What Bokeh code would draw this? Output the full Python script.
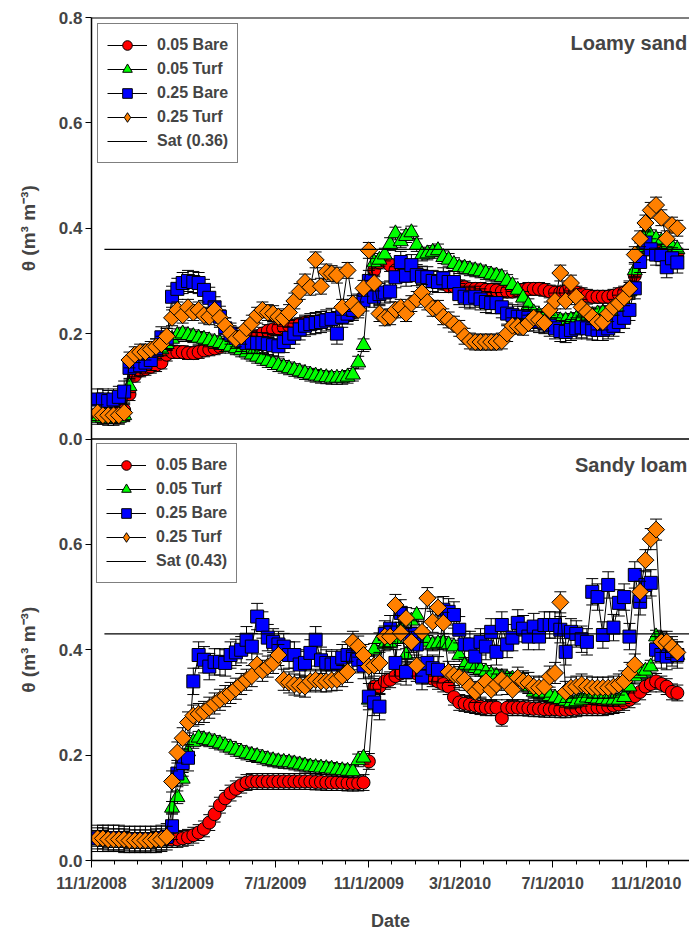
import numpy as np
import pandas as pd
from bokeh.plotting import figure
from bokeh.layouts import row
from bokeh.models import (Range1d, FixedTicker, Span, Label, Legend, LegendItem,
                          ColumnDataSource, CustomJSTickFormatter)
from bokeh.embed import file_html
from bokeh.resources import INLINE

# ---------------- data ----------------
first_date = "2008-11-09"          # weekly readings
n_weeks = 110
origin_date = "2008-11-01"
end_date = "2010-12-28"
sat_start = "2008-11-18"

major_tick_dates = ["2008-11-01", "2009-03-01", "2009-07-01", "2009-11-01",
                    "2010-03-01", "2010-07-01", "2010-11-01"]
major_tick_labels = ["11/1/2008", "3/1/2009", "7/1/2009", "11/1/2009",
                     "3/1/2010", "7/1/2010", "11/1/2010"]
panel_y_ticks = [0.0, 0.2, 0.4, 0.6, 0.8]

series_names = ["0.05 Bare", "0.05 Turf", "0.25 Bare", "0.25 Turf"]

# Loamy sand
ls_bare05 = [0.045,0.045,0.045,0.045,0.05,0.055,0.085,0.12,0.13,0.133,
             0.137,0.14,0.145,0.16,0.165,0.165,0.165,0.163,0.163,0.165,
             0.168,0.17,0.172,0.175,0.178,0.18,0.182,0.185,0.188,0.192,
             0.195,0.2,0.205,0.208,0.21,0.212,0.215,0.215,0.218,0.22,
             0.222,0.222,0.225,0.226,0.228,0.23,0.232,0.235,0.24,0.25,
             0.27,0.3,0.32,0.335,0.34,0.33,0.32,0.31,0.31,0.32,
             0.315,0.31,0.305,0.3,0.3,0.295,0.29,0.29,0.29,0.288,
             0.285,0.285,0.285,0.283,0.283,0.282,0.28,0.28,0.28,0.282,
             0.283,0.285,0.285,0.285,0.283,0.28,0.278,0.278,0.28,0.28,
             0.278,0.275,0.272,0.27,0.27,0.27,0.27,0.272,0.275,0.278,
             0.285,0.31,0.34,0.36,0.37,0.37,0.365,0.36,0.355,0.35]
ls_turf05 = [0.04,0.04,0.038,0.038,0.04,0.045,0.1,0.14,0.15,0.155,
             0.16,0.165,0.17,0.18,0.19,0.197,0.2,0.197,0.195,0.192,
             0.19,0.187,0.184,0.182,0.178,0.175,0.172,0.168,0.164,0.16,
             0.156,0.152,0.148,0.144,0.14,0.137,0.134,0.131,0.128,0.125,
             0.122,0.12,0.118,0.117,0.116,0.116,0.116,0.118,0.122,0.145,
             0.178,0.3,0.335,0.34,0.35,0.37,0.39,0.375,0.385,0.392,
             0.368,0.35,0.352,0.355,0.358,0.345,0.34,0.332,0.326,0.325,
             0.322,0.32,0.318,0.315,0.312,0.31,0.307,0.3,0.292,0.283,
             0.268,0.254,0.24,0.235,0.232,0.23,0.228,0.225,0.225,0.226,
             0.228,0.23,0.232,0.235,0.238,0.24,0.238,0.24,0.25,0.26,
             0.28,0.32,0.36,0.39,0.385,0.38,0.375,0.37,0.365,0.36]
ls_bare25 = [0.075,0.075,0.072,0.075,0.08,0.09,0.135,0.138,0.14,0.145,
             0.15,0.17,0.193,0.19,0.27,0.285,0.296,0.3,0.298,0.296,
             0.283,0.268,0.25,0.232,0.21,0.2,0.192,0.186,0.182,0.183,
             0.182,0.182,0.18,0.178,0.176,0.184,0.192,0.2,0.208,0.215,
             0.218,0.22,0.222,0.225,0.228,0.2,0.232,0.238,0.245,0.255,
             0.263,0.3,0.27,0.275,0.278,0.28,0.307,0.336,0.31,0.33,
             0.311,0.308,0.307,0.3,0.298,0.305,0.298,0.298,0.275,0.27,
             0.267,0.27,0.265,0.26,0.258,0.258,0.25,0.238,0.235,0.232,
             0.232,0.23,0.225,0.222,0.22,0.215,0.21,0.205,0.203,0.207,
             0.21,0.212,0.21,0.208,0.207,0.207,0.21,0.215,0.222,0.23,
             0.245,0.286,0.336,0.373,0.36,0.35,0.349,0.326,0.343,0.335]
ls_turf25 = [0.05,0.045,0.045,0.045,0.045,0.05,0.15,0.16,0.165,0.165,
             0.17,0.175,0.18,0.195,0.23,0.245,0.235,0.25,0.24,0.245,
             0.235,0.232,0.245,0.23,0.215,0.2,0.19,0.195,0.21,0.22,
             0.235,0.245,0.24,0.238,0.232,0.229,0.24,0.262,0.28,0.298,
             0.288,0.34,0.29,0.317,0.314,0.311,0.25,0.32,0.257,0.245,
             0.286,0.358,0.296,0.238,0.23,0.232,0.245,0.25,0.238,0.257,
             0.265,0.278,0.26,0.248,0.248,0.232,0.226,0.218,0.21,0.195,
             0.186,0.184,0.184,0.184,0.184,0.184,0.186,0.2,0.215,0.214,
             0.212,0.22,0.23,0.226,0.22,0.245,0.262,0.315,0.262,0.296,
             0.27,0.25,0.241,0.232,0.222,0.222,0.238,0.25,0.258,0.268,
             0.285,0.35,0.38,0.41,0.434,0.444,0.42,0.38,0.406,0.40]
ls_sat = 0.36
ls_err = [0.012, 0.012, 0.02, 0.015]

# Sandy loam
sl_bare05 = [0.042,0.042,0.04,0.04,0.04,0.04,0.038,0.038,0.038,0.038,
             0.038,0.04,0.04,0.04,0.04,0.04,0.042,0.044,0.048,0.053,
             0.06,0.072,0.088,0.105,0.118,0.128,0.136,0.143,0.148,0.15,
             0.15,0.15,0.15,0.15,0.15,0.15,0.15,0.15,0.15,0.15,
             0.15,0.149,0.149,0.148,0.148,0.148,0.148,0.147,0.147,0.147,
             0.148,0.188,0.33,0.33,0.34,0.343,0.35,0.355,0.36,0.36,
             0.355,0.35,0.35,0.345,0.34,0.335,0.33,0.31,0.3,0.298,
             0.296,0.294,0.292,0.29,0.29,0.29,0.27,0.29,0.29,0.29,
             0.29,0.289,0.288,0.288,0.287,0.287,0.287,0.286,0.286,0.287,
             0.288,0.29,0.29,0.29,0.29,0.29,0.292,0.294,0.296,0.3,
             0.305,0.312,0.32,0.33,0.335,0.34,0.335,0.33,0.32,0.318]
sl_turf05 = [0.042,0.042,0.04,0.04,0.04,0.04,0.038,0.038,0.038,0.038,
             0.038,0.04,0.04,0.045,0.1,0.12,0.155,0.207,0.225,0.233,
             0.23,0.228,0.225,0.222,0.218,0.214,0.21,0.206,0.203,0.2,
             0.198,0.195,0.192,0.19,0.188,0.187,0.186,0.184,0.182,0.18,
             0.178,0.177,0.176,0.175,0.174,0.172,0.171,0.17,0.169,0.19,
             0.195,0.305,0.4,0.42,0.41,0.413,0.42,0.44,0.39,0.455,
             0.466,0.43,0.415,0.41,0.412,0.413,0.41,0.406,0.39,0.37,
             0.368,0.365,0.362,0.358,0.353,0.35,0.348,0.346,0.345,0.344,
             0.343,0.33,0.32,0.318,0.315,0.312,0.309,0.306,0.303,0.3,
             0.302,0.305,0.309,0.308,0.307,0.306,0.305,0.305,0.305,0.31,
             0.33,0.349,0.355,0.36,0.368,0.425,0.42,0.41,0.4,0.39]
sl_bare25 = [0.042,0.042,0.042,0.042,0.042,0.04,0.04,0.04,0.04,0.04,
             0.04,0.04,0.042,0.045,0.065,0.165,0.185,0.195,0.34,0.39,
             0.381,0.368,0.377,0.377,0.375,0.39,0.395,0.4,0.419,0.406,
             0.463,0.447,0.423,0.415,0.41,0.406,0.39,0.39,0.372,0.375,
             0.394,0.419,0.38,0.375,0.372,0.375,0.385,0.39,0.387,0.381,
             0.37,0.311,0.3,0.292,0.43,0.44,0.375,0.47,0.358,0.43,
             0.41,0.349,0.375,0.365,0.362,0.476,0.472,0.466,0.438,0.41,
             0.41,0.387,0.415,0.406,0.434,0.396,0.447,0.41,0.423,0.451,
             0.44,0.425,0.444,0.425,0.447,0.447,0.447,0.438,0.396,0.434,
             0.43,0.42,0.415,0.51,0.5,0.428,0.523,0.442,0.489,0.5,
             0.425,0.542,0.491,0.523,0.527,0.4,0.39,0.387,0.394,0.39]
sl_turf25 = [0.042,0.042,0.04,0.04,0.04,0.04,0.038,0.038,0.038,0.038,
             0.038,0.04,0.04,0.045,0.15,0.205,0.232,0.262,0.275,0.278,
             0.282,0.29,0.298,0.305,0.312,0.318,0.326,0.335,0.343,0.35,
             0.372,0.36,0.368,0.375,0.39,0.343,0.338,0.334,0.332,0.33,
             0.34,0.343,0.34,0.34,0.342,0.343,0.35,0.358,0.415,0.406,
             0.39,0.368,0.37,0.375,0.425,0.425,0.485,0.432,0.46,0.415,
             0.37,0.434,0.498,0.453,0.48,0.451,0.358,0.352,0.348,0.343,
             0.33,0.32,0.33,0.34,0.324,0.334,0.343,0.335,0.324,0.347,
             0.34,0.337,0.33,0.328,0.33,0.349,0.356,0.49,0.32,0.328,
             0.33,0.334,0.33,0.328,0.328,0.328,0.328,0.33,0.334,0.34,
             0.356,0.372,0.51,0.57,0.61,0.628,0.415,0.415,0.405,0.395]
sl_sat = 0.43
sl_err = [0.015, 0.012, 0.025, 0.02]

# ---------------- styling ----------------
FONT = "Liberation Sans"
colors = ["#ff0000", "#00ff00", "#0000ff", "#ff8000"]
markers = ["circle", "triangle", "square", "square"]
legend_markers = ["circle", "triangle", "square", "diamond"]
sizes = [13, 15, 13, 12]
angles = [0, 0, 0, np.pi / 4]
Y_LABEL = "θ (m³ m⁻³)"

LABEL_W = 45          # narrow strip on the left that carries the y titles
TOTAL_W, TOTAL_H = 689, 933
TOP_B, BOT_B, LEFT_B = 17, 72, 91

origin = pd.Timestamp(origin_date)
dates = pd.date_range(first_date, periods=n_weeks, freq="7D")
xday = np.asarray((dates - origin).days, dtype=float)
x_end = float((pd.Timestamp(end_date) - origin).days)
sat_x0 = float((pd.Timestamp(sat_start) - origin).days)

major_days = [int((pd.Timestamp(d) - origin).days) for d in major_tick_dates]
minor_days = [int((d - origin).days) for d in pd.date_range(origin_date, end_date, freq="MS")]

span_h = panel_y_ticks[-1]   # each panel spans 0 .. 0.8

# One frame holding both stacked panels: the lower panel (Sandy loam) uses the
# default y range, the upper panel (Loamy sand) its own range shifted by one panel.
p = figure(width=TOTAL_W - LABEL_W, height=TOTAL_H, x_range=Range1d(0, x_end),
           y_range=Range1d(0, 2 * span_h),
           output_backend="svg", toolbar_location=None,
           min_border_left=LEFT_B - LABEL_W, min_border_right=0, min_border_top=TOP_B,
           min_border_bottom=BOT_B)
p.extra_y_ranges = {"top": Range1d(-span_h, span_h)}
p.outline_line_color = None
p.xgrid.visible = False
p.ygrid.visible = False
p.background_fill_color = "white"
p.border_fill_color = "white"

ya = p.yaxis[0]
ya.ticker = FixedTicker(ticks=sorted(set(panel_y_ticks + [t + span_h for t in panel_y_ticks])))
ya.formatter = CustomJSTickFormatter(args=dict(h=span_h), code="""
    const v = tick >= h - 1e-9 ? tick - h : tick;
    return v.toFixed(1);
""")
ya.major_label_text_font = FONT
ya.major_label_text_font_style = "bold"
ya.major_label_text_font_size = "17px"
ya.major_label_standoff = 3
ya.major_tick_out = 6
ya.major_tick_in = 0
ya.minor_tick_out = 0
ya.minor_tick_in = 0
ya.axis_line_width = 1.5

xa = p.xaxis[0]
xa.ticker = FixedTicker(ticks=major_days, minor_ticks=minor_days)
xa.major_label_overrides = {d: lab for d, lab in zip(major_days, major_tick_labels)}
xa.axis_label = "Date"
xa.axis_label_text_font = FONT
xa.axis_label_text_font_style = "bold"
xa.axis_label_text_font_size = "18px"
xa.axis_label_standoff = 16
xa.major_label_text_font = FONT
xa.major_label_text_font_style = "bold"
xa.major_label_text_font_size = "16px"
xa.major_label_standoff = 7
xa.major_tick_out = 7
xa.major_tick_in = 0
xa.minor_tick_out = 4
xa.minor_tick_in = 0
xa.axis_line_width = 1.5

# strip for the two rotated y-axis titles, sharing the vertical scales
lab = figure(width=LABEL_W, height=TOTAL_H, x_range=Range1d(0, LABEL_W),
             y_range=p.y_range, output_backend="svg", toolbar_location=None,
             min_border_left=0, min_border_right=0, min_border_top=TOP_B,
             min_border_bottom=BOT_B, x_axis_location=None, y_axis_location=None)
lab.extra_y_ranges = {"top": p.extra_y_ranges["top"]}
lab.outline_line_color = None
lab.grid.visible = False
lab.background_fill_color = "white"
lab.border_fill_color = "white"


def draw_panel(values, errs, sat, title, yname, legend_loc):
    items = []
    for name, vals, err, col, mk, lmk, sz, ang in zip(series_names, values, errs, colors,
                                                      markers, legend_markers, sizes, angles):
        y = np.asarray(vals, dtype=float)
        src = ColumnDataSource(dict(x=xday, y=y, lo=y - err, hi=y + err))
        ln = p.line("x", "y", source=src, line_color="black", line_width=1, y_range_name=yname)
        p.segment(x0="x", y0="lo", x1="x", y1="hi", source=src,
                  line_color="black", line_width=1, y_range_name=yname)
        p.scatter("x", "lo", source=src, marker="dash", size=12,
                  line_color="black", line_width=1, y_range_name=yname)
        p.scatter("x", "hi", source=src, marker="dash", size=12,
                  line_color="black", line_width=1, y_range_name=yname)
        p.scatter("x", "y", source=src, marker=mk, size=sz, angle=ang,
                  fill_color=col, line_color="black", line_width=1, y_range_name=yname)
        # legend swatch (hidden in the plot, only drawn in the legend)
        sw = p.scatter("x", "y", source=src, marker=lmk, fill_color=col, line_color="black",
                       line_width=1, y_range_name=yname, visible=False)
        items.append(LegendItem(label=name, renderers=[ln, sw]))
    sat_src = ColumnDataSource(dict(x=[sat_x0, x_end], y=[sat, sat]))
    sl = p.line("x", "y", source=sat_src, line_color="black", line_width=1.2, y_range_name=yname)
    items.append(LegendItem(label="Sat (%.2f)" % sat, renderers=[sl]))

    leg = Legend(items=items, location=legend_loc)
    leg.margin = 6
    leg.padding = 9
    leg.spacing = 0
    leg.glyph_width = 40
    leg.glyph_height = 24
    leg.label_standoff = 10
    leg.label_text_font = FONT
    leg.label_text_font_style = "bold"
    leg.label_text_font_size = "16px"
    leg.border_line_color = "black"
    leg.border_line_width = 1
    leg.background_fill_alpha = 1
    p.add_layout(leg)

    p.add_layout(Label(x=x_end - 3, y=0.751, y_range_name=yname, text=title,
                       text_align="right", text_baseline="alphabetic", text_font=FONT,
                       text_font_style="bold", text_font_size="20px"))
    lab.add_layout(Label(x=28, y=span_h / 2, y_range_name=yname,
                         text=Y_LABEL, angle=np.pi / 2, text_align="center",
                         text_baseline="middle", text_font=FONT,
                         text_font_style="bold", text_font_size="19px"))


draw_panel([sl_bare05, sl_turf05, sl_bare25, sl_turf25], sl_err, sl_sat, "Sandy loam",
           "default", (5, 277))
draw_panel([ls_bare05, ls_turf05, ls_bare25, ls_turf25], ls_err, ls_sat, "Loamy sand",
           "top", "top_left")

# panel frame lines: top edge and the shared boundary between the panels
p.add_layout(Span(location=2 * span_h, dimension="width", line_color="black", line_width=2))
p.add_layout(Span(location=span_h, dimension="width", line_color="black", line_width=1.5))

layout = row(lab, p, spacing=0)
open("out.html", "w").write(file_html(layout, INLINE))
